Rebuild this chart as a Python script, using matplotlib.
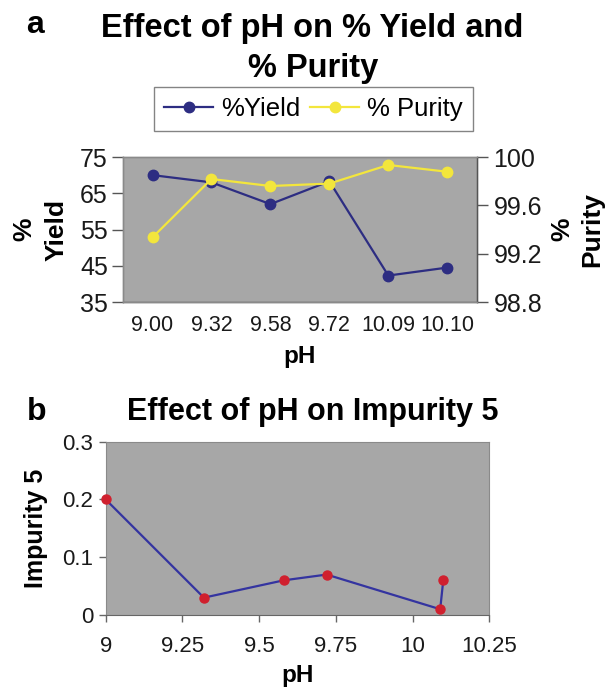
import matplotlib
matplotlib.use("Agg")
import matplotlib.pyplot as plt

plt.rcParams['font.family'] = ['Liberation Sans', 'DejaVu Sans']

# panel a data
ph_labels = ['9.00', '9.32', '9.58', '9.72', '10.09', '10.10']
yield_pct = [70.0, 68.0, 62.0, 68.3, 42.3, 44.5]
purity_pct = [99.335, 99.818, 99.76, 99.78, 99.934, 99.878]

# panel b data
ph_values = [9.00, 9.32, 9.58, 9.72, 10.09, 10.10]
impurity5 = [0.20, 0.03, 0.06, 0.07, 0.01, 0.06]

GRAY_BG = '#a7a7a7'
NAVY = '#2d2d82'
YELLOW = '#f3e63c'
RED = '#d0202e'
LINE_B = '#3434a0'
TXT = '#1a1a1a'

fig = plt.figure(figsize=(6.13, 6.88), dpi=100)

# ---- panel a ----
ax1 = fig.add_axes([0.2007, 0.5610, 0.5770, 0.2108])
ax1.set_facecolor(GRAY_BG)
x = list(range(len(ph_labels)))
l1, = ax1.plot(x, yield_pct, '-o', color=NAVY, lw=1.6, ms=7.5, label='%Yield')
ax1.set_xlim(-0.5, len(ph_labels) - 0.5)
ax1.set_ylim(35, 75)
ax1.set_yticks([35, 45, 55, 65, 75])
ax1.set_xticks(x)
ax1.set_xticklabels(ph_labels)
ax1.tick_params(axis='x', length=0, pad=9, labelsize=15.5, colors=TXT)
ax1.tick_params(axis='y', length=8, width=1, color='#555555', pad=3,
                labelsize=18, colors=TXT)
ax1.set_xlabel('pH', fontsize=17.5, fontweight='bold', labelpad=7)
ax1.set_ylabel('%\nYield', fontsize=19, fontweight='bold', labelpad=8,
               linespacing=1.45)

ax2 = ax1.twinx()
l2, = ax2.plot(x, purity_pct, '-o', color=YELLOW, lw=1.6, ms=7.5, label='% Purity')
ax2.set_ylim(98.8, 100)
ax2.set_yticks([98.8, 99.2, 99.6, 100])
ax2.set_yticklabels(['98.8', '99.2', '99.6', '100'])
ax2.tick_params(axis='y', length=8, width=1, color='#555555', pad=4,
                labelsize=18, colors=TXT)
ax2.set_ylabel('%\nPurity', fontsize=19, fontweight='bold', labelpad=6,
               linespacing=1.3)
ax2.yaxis.set_label_position('right')
ax1.set_zorder(0)
ax2.set_zorder(1)
ax2.set_facecolor('none')

for ax in (ax1, ax2):
    for side in ('top', 'right', 'left', 'bottom'):
        ax.spines[side].set_color('#8a8a8a')
        ax.spines[side].set_linewidth(1)
ax2.spines['right'].set_color('#555555')
ax1.spines['bottom'].set_color('#555555')

leg = fig.legend(handles=[l1, l2], loc='center', bbox_to_anchor=(0.5114, 0.8415),
                 ncol=2, frameon=True, fancybox=False, fontsize=18.5,
                 handlelength=1.9, handletextpad=0.3, columnspacing=0.4,
                 borderpad=0.4)
leg.get_frame().set_edgecolor('#666666')
leg.get_frame().set_linewidth(1)

fig.text(0.042, 1 - 33 / 688, 'a', fontsize=23, fontweight='bold', va='baseline')
fig.text(0.51, 1 - 37 / 688, 'Effect of pH on % Yield and', fontsize=23.5,
         fontweight='bold', ha='center', va='baseline')
fig.text(0.51, 1 - 77 / 688, '% Purity', fontsize=23.5, fontweight='bold',
         ha='center', va='baseline')

# ---- panel b ----
ax3 = fig.add_axes([0.1724, 0.1061, 0.6258, 0.2519])
ax3.set_facecolor(GRAY_BG)
ax3.plot(ph_values, impurity5, '-', color=LINE_B, lw=1.6, zorder=2)
ax3.plot(ph_values, impurity5, 'o', color=RED, ms=6.5, zorder=3, clip_on=False)
ax3.set_xlim(9, 10.25)
ax3.set_ylim(0, 0.3)
ax3.set_xticks([9, 9.25, 9.5, 9.75, 10, 10.25])
ax3.set_xticklabels(['9', '9.25', '9.5', '9.75', '10', '10.25'])
ax3.set_yticks([0, 0.1, 0.2, 0.3])
ax3.set_yticklabels(['0', '0.1', '0.2', '0.3'])
ax3.tick_params(axis='both', length=5, width=1, color='#666666',
                labelsize=16, colors=TXT)
ax3.tick_params(axis='x', pad=10)
ax3.tick_params(axis='y', pad=4)
for side in ('top', 'right', 'left', 'bottom'):
    ax3.spines[side].set_color('#8a8a8a')
ax3.spines['bottom'].set_color('#666666')
ax3.set_xlabel('pH', fontsize=17.5, fontweight='bold', labelpad=5)
ax3.set_ylabel('Impurity 5', fontsize=18, fontweight='bold', labelpad=10)

fig.text(0.044, 1 - 420 / 688, 'b', fontsize=23, fontweight='bold', va='baseline')
fig.text(0.51, 1 - 420 / 688, 'Effect of pH on Impurity 5', fontsize=22,
         fontweight='bold', ha='center', va='baseline')

fig.savefig('out.png', dpi=100, facecolor='white')
